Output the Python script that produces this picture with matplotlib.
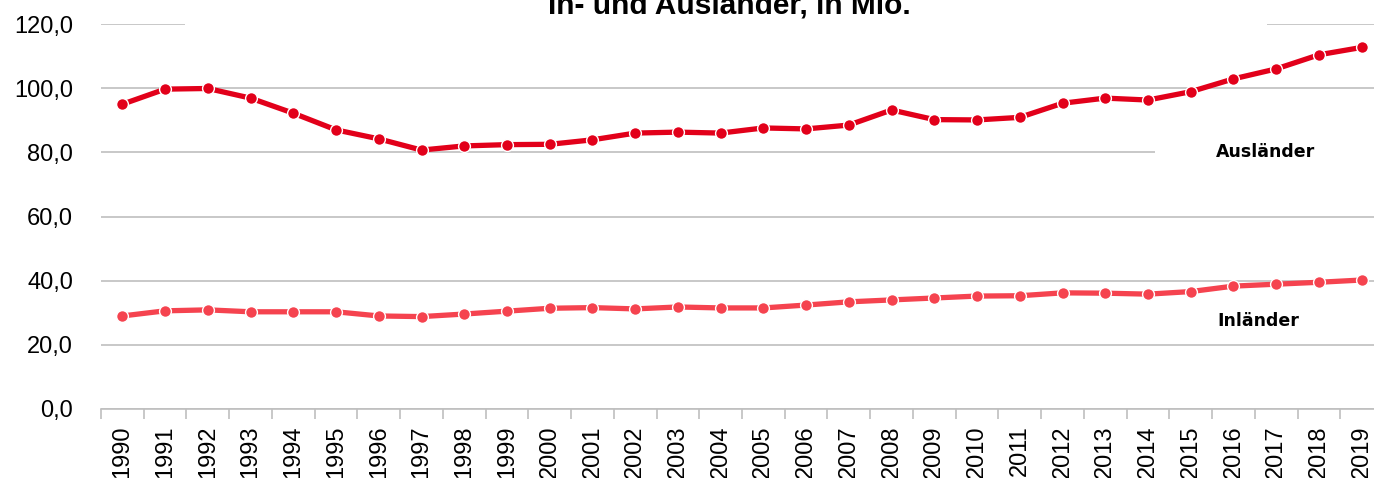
import matplotlib
matplotlib.use("Agg")
import matplotlib.pyplot as plt
from matplotlib.patches import Rectangle

plt.rcParams['font.family'] = ['Liberation Sans', 'DejaVu Sans']

years = [str(y) for y in range(1990, 2020)]
auslaender = [95.0, 99.7, 99.9, 96.9, 92.2, 87.0, 84.2, 80.7, 82.0, 82.4,
              82.5, 83.9, 86.0, 86.3, 86.0, 87.6, 87.3, 88.5, 93.2, 90.2,
              90.1, 90.9, 95.3, 96.9, 96.3, 98.9, 102.9, 106.0, 110.4, 112.7]
inlaender = [29.0, 30.6, 30.9, 30.3, 30.3, 30.3, 29.0, 28.8, 29.6, 30.5,
             31.4, 31.6, 31.2, 31.8, 31.5, 31.5, 32.4, 33.4, 34.0, 34.6,
             35.2, 35.3, 36.2, 36.1, 35.8, 36.6, 38.3, 38.9, 39.5, 40.2]
yticks = [0, 20, 40, 60, 80, 100, 120]

col_aus = '#E2001A'
col_in = '#F5434F'

fig = plt.figure(figsize=(13.74, 4.78), dpi=100)
ax = fig.add_axes([101/1374, 69/478, 1282/1374, 385/478])

x = range(len(years))
ax.plot(x, auslaender, color=col_aus, lw=3.8, marker='o', ms=8.5,
        mfc=col_aus, mec='white', mew=1.0, zorder=5, clip_on=False)
ax.plot(x, inlaender, color=col_in, lw=3.8, marker='o', ms=8.5,
        mfc=col_in, mec='white', mew=1.0, zorder=5, clip_on=False)

ax.set_xlim(-0.5, len(years) - 0.5)
ax.set_ylim(0, 120)
ax.set_yticks(yticks)
ax.set_yticklabels([f"{v:.1f}".replace('.', ',') for v in yticks], fontsize=17)
ax.yaxis.grid(True, color='#BFBFBF', lw=1.2)
ax.set_axisbelow(True)
ax.tick_params(axis='y', length=0, pad=20)

ax.set_xticks(list(x))
ax.set_xticklabels(years, rotation=90, fontsize=17)
ax.set_xticks([i - 0.5 for i in range(len(years) + 1)], minor=True)
ax.tick_params(axis='x', which='major', length=0, pad=12)
ax.tick_params(axis='x', which='minor', length=7, color='#BFBFBF', width=1.2)

for s in ['top', 'right', 'left']:
    ax.spines[s].set_visible(False)
ax.spines['bottom'].set_color('#BFBFBF')
ax.spines['bottom'].set_linewidth(1.2)

# white boxes behind title and series label (hide gridline parts)
ax.add_patch(Rectangle((0.0655, 0.97), 0.844, 0.06, transform=ax.transAxes,
                       facecolor='white', edgecolor='none', zorder=2, clip_on=False))
ax.add_patch(Rectangle((0.822, 0.64), 0.2, 0.06, transform=ax.transAxes,
                       facecolor='white', edgecolor='none', zorder=2, clip_on=False))

fig.text(0.531, 0.972, 'In- und Ausländer, in Mio.', ha='center', va='baseline',
         fontsize=21.5, fontweight='bold')
ax.text(0.9085, 0.667, 'Ausländer', transform=ax.transAxes, ha='center',
        va='center', fontsize=12.5, fontweight='bold', family='DejaVu Sans', zorder=6)
ax.text(0.903, 0.228, 'Inländer', transform=ax.transAxes, ha='center',
        va='center', fontsize=12.5, fontweight='bold', family='DejaVu Sans', zorder=6)

fig.savefig('out.png', dpi=100)
